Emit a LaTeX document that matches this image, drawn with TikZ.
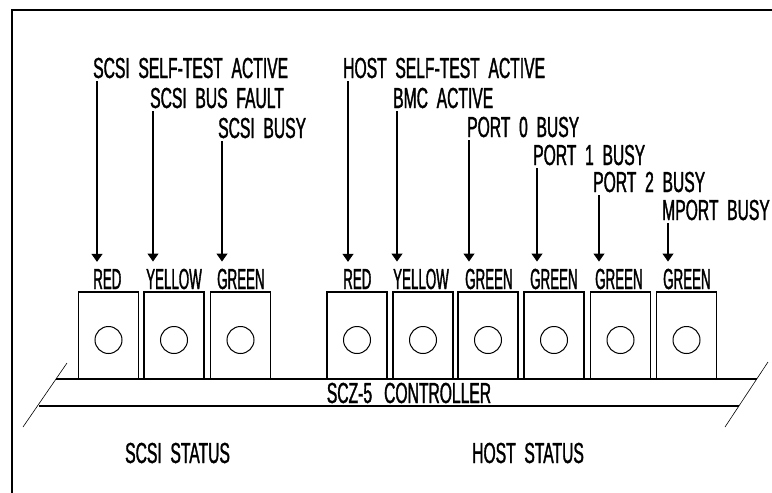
\documentclass[tikz,border=0pt]{standalone}
\usepackage{fontspec}
\newfontfamily\tagfont[FakeStretch=0.54,FakeBold=1.2,WordSpace=2]{Liberation Sans}
\newfontfamily\ledfont[FakeStretch=0.46,FakeBold=1.2]{Liberation Sans}
\usepackage{tikz}
\usetikzlibrary{arrows.meta}

\begin{document}
\begin{tikzpicture}[
        x=1pt, y=-1pt,
        status/.style={inner sep=0pt, anchor=base west, font=\tagfont\fontsize{29}{29}\selectfont},
        lamp/.style={inner sep=0pt, anchor=base west, font=\ledfont\fontsize{29}{29}\selectfont},
        led/.style={draw, rectangle, minimum width=60pt, minimum height=87pt, inner sep=0pt, line width=1.2pt},
        bulb/.style={line width=1pt},
        sigarrow/.style={-{Triangle[width=11pt,length=8pt]}, line width=1.1pt, shorten <=3pt, shorten >=7pt}
      ]
      \useasboundingbox (0,0) rectangle (772,493);

      % frame
      \draw[line width=2.4pt] (12,493) -- (12,10) -- (772,10);

      % controller board
      \draw[line width=1.8pt] (56,379) -- (757,379);
      \draw[line width=1.8pt] (39,406) -- (739,406);
      \draw[line width=0.6pt] (67,363) -- (23,427);
      \draw[line width=0.6pt] (768,362) -- (725,427);
      \node[status, anchor=base] (ctrl) at (409,403) {SCZ-5\hspace{12pt}CONTROLLER};

      % signal names
      \node[status] (stat1) at (93,78)  {SCSI SELF-TEST ACTIVE};
      \node[status] (stat2) at (150,108) {SCSI BUS FAULT};
      \node[status] (stat3) at (218,138) {SCSI BUSY};
      \node[status] (stat4) at (343,78)  {HOST SELF-TEST ACTIVE};
      \node[status] (stat5) at (393,108) {BMC ACTIVE};
      \node[status] (stat6) at (467,137) {PORT 0 BUSY};
      \node[status] (stat7) at (533,165) {PORT 1 BUSY};
      \node[status] (stat8) at (593,192) {PORT 2 BUSY};
      \node[status] (stat9) at (662,220) {MPORT BUSY};

      % lamp colours
      \node[lamp] (c1) at (93,289)  {RED};
      \node[lamp] (c2) at (146,289) {YELLOW};
      \node[lamp] (c3) at (217,289) {GREEN};
      \node[lamp] (c4) at (343,289) {RED};
      \node[lamp] (c5) at (393,289) {YELLOW};
      \node[lamp] (c6) at (465,289) {GREEN};
      \node[lamp] (c7) at (530,289) {GREEN};
      \node[lamp] (c8) at (595,289) {GREEN};
      \node[lamp] (c9) at (663,289) {GREEN};

      % LEDs
      \node[led] (led1) at (108.5,335.5) {};
      \node[led] (led2) at (174,335.5)   {};
      \node[led] (led3) at (240.5,335.5) {};
      \node[led] (led4) at (357,335.5)   {};
      \node[led] (led5) at (423,335.5)   {};
      \node[led] (led6) at (488,335.5)   {};
      \node[led] (led7) at (554,335.5)   {};
      \node[led] (led8) at (620.5,335.5) {};
      \node[led] (led9) at (686.5,335.5) {};

      \draw[bulb] ([yshift=-4.5pt]led1.center) circle (13.5pt);
      \draw[bulb] ([yshift=-4.5pt]led2.center) circle (13.5pt);
      \draw[bulb] ([yshift=-4.5pt]led3.center) circle (13.5pt);
      \draw[bulb] ([yshift=-4.5pt]led4.center) circle (13.5pt);
      \draw[bulb] ([yshift=-4.5pt]led5.center) circle (13.5pt);
      \draw[bulb] ([yshift=-4.5pt]led6.center) circle (13.5pt);
      \draw[bulb] ([yshift=-4.5pt]led7.center) circle (13.5pt);
      \draw[bulb] ([yshift=-4.5pt]led8.center) circle (13.5pt);
      \draw[bulb] ([yshift=-4.5pt]led9.center) circle (13.5pt);

      % signal arrows
      \coordinate (p1) at ([xshift=4pt]stat1.base west);
      \coordinate (p2) at ([xshift=3pt]stat2.base west);
      \coordinate (p3) at ([xshift=4pt]stat3.base west);
      \coordinate (p4) at ([xshift=5pt]stat4.base west);
      \coordinate (p5) at ([xshift=4pt]stat5.base west);
      \coordinate (p6) at ([xshift=2pt]stat6.base west);
      \coordinate (p7) at ([xshift=4pt]stat7.base west);
      \coordinate (p8) at ([xshift=6pt]stat8.base west);
      \coordinate (p9) at ([xshift=6pt]stat9.base west);

      \draw[sigarrow] (p1) -- (p1 |- c1.north);
      \draw[sigarrow] (p2) -- (p2 |- c2.north);
      \draw[sigarrow] (p3) -- (p3 |- c3.north);
      \draw[sigarrow] (p4) -- (p4 |- c4.north);
      \draw[sigarrow] (p5) -- (p5 |- c5.north);
      \draw[sigarrow] (p6) -- (p6 |- c6.north);
      \draw[sigarrow] (p7) -- (p7 |- c7.north);
      \draw[sigarrow] (p8) -- (p8 |- c8.north);
      \draw[sigarrow] (p9) -- (p9 |- c9.north);

      % group captions
      \node[status] (scsi) at (125,463) {SCSI STATUS};
      \node[status] (host) at (472,463) {HOST STATUS};
    \end{tikzpicture}
\end{document}
